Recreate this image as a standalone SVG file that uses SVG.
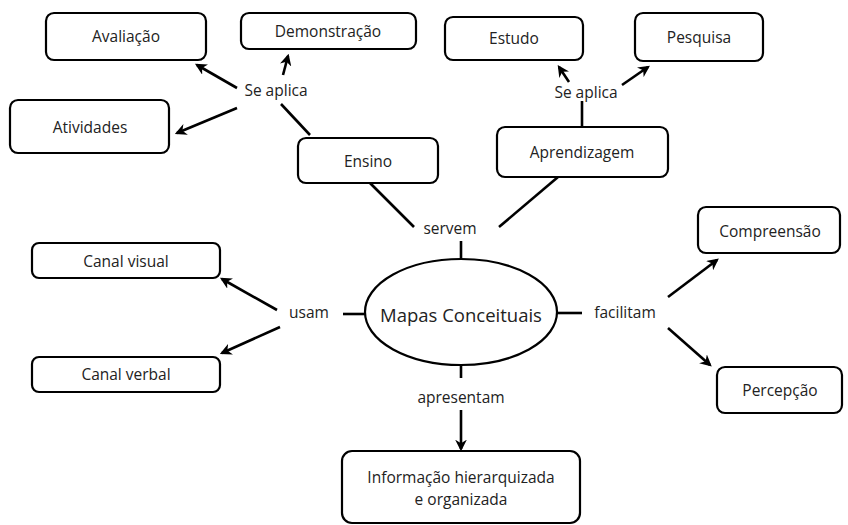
<svg xmlns="http://www.w3.org/2000/svg" width="848" height="525" viewBox="0 0 848 525">
<style>
.box{fill:#fff;stroke:#000;stroke-width:2.2}
.t{font-family:"Open Sans","Noto Sans",sans-serif;font-size:15.5px;fill:#222;text-anchor:middle;dominant-baseline:central}
.c{stroke:#000;stroke-width:2.6;fill:none}
</style>
<defs>
<marker id="ah" viewBox="0 0 10 10" refX="8" refY="5" markerWidth="4.5" markerHeight="4.5" orient="auto" markerUnits="strokeWidth">
<path d="M0,0 L10,5 L0,10 L3,5 Z" fill="#000"/>
</marker>
</defs>
<rect width="848" height="525" fill="#fff"/>
<g id="connectors">
<line class="c" x1="237" y1="88" x2="197" y2="65" marker-end="url(#ah)"/>
<line class="c" x1="283" y1="75" x2="288" y2="56" marker-end="url(#ah)"/>
<line class="c" x1="237" y1="108" x2="177" y2="133" marker-end="url(#ah)"/>
<line class="c" x1="310" y1="135" x2="281" y2="104"/>
<line class="c" x1="569" y1="82" x2="559" y2="67" marker-end="url(#ah)"/>
<line class="c" x1="622" y1="85" x2="648" y2="67" marker-end="url(#ah)"/>
<line class="c" x1="582" y1="101" x2="582" y2="127"/>
<line class="c" x1="370" y1="183" x2="414" y2="227"/>
<line class="c" x1="499" y1="227" x2="558" y2="177"/>
<line class="c" x1="461" y1="241" x2="461" y2="258"/>
<line class="c" x1="277" y1="310" x2="222" y2="279" marker-end="url(#ah)"/>
<line class="c" x1="280" y1="327" x2="222" y2="353" marker-end="url(#ah)"/>
<line class="c" x1="343" y1="314" x2="366" y2="314"/>
<line class="c" x1="557" y1="313" x2="582" y2="313"/>
<line class="c" x1="668" y1="297" x2="717" y2="260" marker-end="url(#ah)"/>
<line class="c" x1="668" y1="328" x2="710" y2="365" marker-end="url(#ah)"/>
<line class="c" x1="461" y1="366" x2="461" y2="378"/>
<line class="c" x1="461" y1="410" x2="461" y2="449" marker-end="url(#ah)"/>
</g>
<g id="n-avaliacao"><rect class="box" x="46" y="13" width="160" height="47" rx="8"/><text class="t" x="126" y="36">Avaliação</text></g>
<g id="n-demonstracao"><rect class="box" x="241" y="13" width="175" height="36" rx="8"/><text class="t" x="328" y="31">Demonstração</text></g>
<g id="n-atividades"><rect class="box" x="10" y="100" width="159" height="53" rx="8"/><text class="t" x="90" y="127">Atividades</text></g>
<g id="l-seaplica1"><text class="t" x="276" y="90">Se aplica</text></g>
<g id="n-ensino"><rect class="box" x="298" y="138" width="140" height="45" rx="8"/><text class="t" x="368" y="161">Ensino</text></g>
<g id="n-estudo"><rect class="box" x="445" y="17" width="138" height="43" rx="8"/><text class="t" x="514" y="38">Estudo</text></g>
<g id="n-pesquisa"><rect class="box" x="635" y="13" width="128" height="48" rx="8"/><text class="t" x="699" y="37">Pesquisa</text></g>
<g id="l-seaplica2"><text class="t" x="586" y="92">Se aplica</text></g>
<g id="n-aprendizagem"><rect class="box" x="497" y="127" width="171" height="50" rx="8"/><text class="t" x="582" y="152">Aprendizagem</text></g>
<g id="l-servem"><text class="t" x="450" y="228">servem</text></g>
<g id="n-canalvisual"><rect class="box" x="32" y="243" width="188" height="35" rx="7"/><text class="t" x="126" y="261">Canal visual</text></g>
<g id="n-canalverbal"><rect class="box" x="32" y="357" width="188" height="35" rx="7"/><text class="t" x="126" y="374">Canal verbal</text></g>
<g id="l-usam"><text class="t" x="309" y="312">usam</text></g>
<g id="n-mapas"><ellipse class="box" cx="461" cy="312" rx="96" ry="53"/><text class="t" x="461" y="314" style="font-size:18.5px">Mapas Conceituais</text></g>
<g id="l-facilitam"><text class="t" x="625" y="312">facilitam</text></g>
<g id="n-compreensao"><rect class="box" x="698" y="207" width="142" height="46" rx="8"/><text class="t" x="770" y="231">Compreensão</text></g>
<g id="n-percepcao"><rect class="box" x="717" y="367" width="125" height="46" rx="8"/><text class="t" x="780" y="390">Percepção</text></g>
<g id="l-apresentam"><text class="t" x="461" y="397">apresentam</text></g>
<g id="n-info"><rect class="box" x="342" y="451" width="238" height="72" rx="10"/><text class="t" x="461" y="477">Informação hierarquizada</text><text class="t" x="461" y="499">e organizada</text></g>
</svg>
